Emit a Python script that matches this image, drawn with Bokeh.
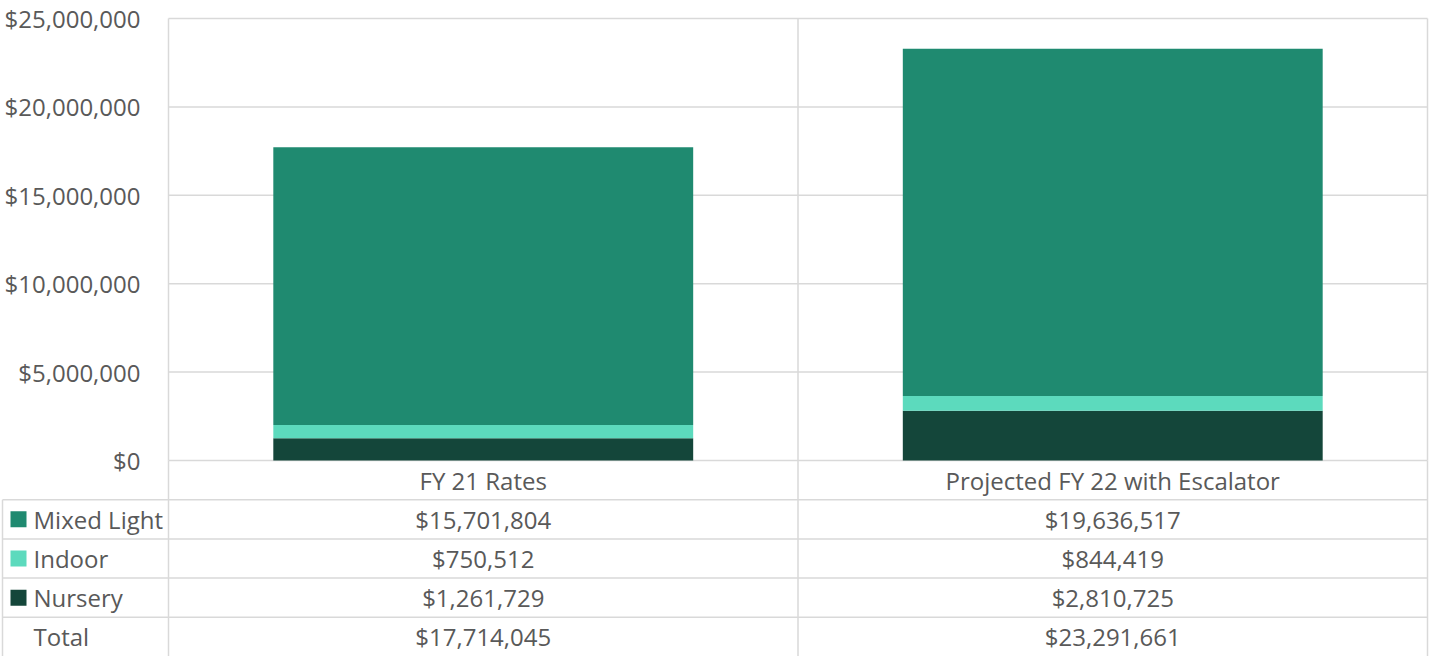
from bokeh.plotting import figure
from bokeh.models import Range1d, ColumnDataSource
from bokeh.core.properties import value
from bokeh.embed import file_html
from bokeh.resources import INLINE

# ---- data ----
categories = ["FY 21 Rates", "Projected FY 22 with Escalator"]
series_names = ["Mixed Light", "Indoor", "Nursery"]
mixed_light = [15701804, 19636517]
indoor = [750512, 844419]
nursery = [1261729, 2810725]
y_ticks = [0, 5000000, 10000000, 15000000, 20000000, 25000000]
y_max = 25000000

colors = {"Mixed Light": "#1f8a70", "Indoor": "#5cdabd", "Nursery": "#14463a"}
GRID = "#d9d9d9"
TXT = "#595959"
FONT = "Open Sans"
FS = "24px"

# ---- layout constants (canvas pixels) ----
W, H = 1429, 656
PLOT_L, PLOT_R = 168, 1427
TOP = 18
PLOT_H = 442
BASE = TOP + PLOT_H
N_ROWS = 5
ROW_H = (H - BASE) / N_ROWS
TABLE_L = 2
TICK_LABEL_R = 140
KEY_X = 18
LABEL_X = 33

ncat = len(categories)
upx = ncat / (PLOT_R - PLOT_L)
x0 = -PLOT_L * upx
x1 = ncat + (W - PLOT_R) * upx
u = y_max / PLOT_H

totals = [a + b + c for a, b, c in zip(mixed_light, indoor, nursery)]
xs = [i + 0.5 for i in range(ncat)]

p = figure(width=W, height=H, x_range=Range1d(x0, x1),
           y_range=Range1d(-(H - BASE) * u, y_max + TOP * u),
           x_axis_location=None, y_axis_location=None,
           output_backend="svg", toolbar_location=None, min_border=0,
           outline_line_color=None)
p.grid.visible = False
p.extra_y_ranges = {"table": Range1d(N_ROWS, -BASE / ROW_H)}

# ---- plot-area grid ----
gx0, gy0, gx1, gy1 = [], [], [], []
for v in y_ticks:
    gx0.append(0); gx1.append(ncat); gy0.append(v); gy1.append(v)
for i in range(ncat + 1):
    gx0.append(i); gx1.append(i); gy0.append(0); gy1.append(y_max)
p.segment(x0=gx0, y0=gy0, x1=gx1, y1=gy1, line_color=GRID, line_width=1.5)

# ---- stacked bars ----
src = ColumnDataSource(dict(x=xs, nursery=nursery, indoor=indoor, mixed=mixed_light))
p.vbar_stack(["nursery", "indoor", "mixed"], x="x", width=0.667,
             color=[colors["Nursery"], colors["Indoor"], colors["Mixed Light"]],
             line_color=None, source=src)

# ---- y tick labels ----
p.text(x=[x0 + TICK_LABEL_R * upx] * len(y_ticks), y=y_ticks,
       text=["${:,}".format(v) for v in y_ticks], text_align="right",
       text_baseline="middle", text_font=value(FONT), text_font_size=FS,
       text_color=TXT)

# ---- data table ----
tl = x0 + TABLE_L * upx
sx0, sy0, sx1, sy1 = [], [], [], []
for i in range(ncat + 1):
    sx0.append(i); sx1.append(i); sy0.append(0); sy1.append(N_ROWS)
sx0.append(tl); sx1.append(tl); sy0.append(1); sy1.append(N_ROWS)
for r in range(1, N_ROWS):
    sx0.append(tl); sx1.append(ncat); sy0.append(r); sy1.append(r)
p.segment(x0=sx0, y0=sy0, x1=sx1, y1=sy1, line_color=GRID, line_width=1.5,
          y_range_name="table")

p.text(x=xs, y=[0.5] * ncat, text=categories, text_align="center",
       text_baseline="middle", text_font=value(FONT), text_font_size=FS,
       text_color=TXT, y_range_name="table")

p.rect(x=[x0 + KEY_X * upx] * 3, y=[1.5, 2.5, 3.5], width=16, height=16,
       width_units="screen", height_units="screen",
       color=[colors[n] for n in series_names], line_color=None,
       y_range_name="table")
row_labels = series_names + ["Total"]
p.text(x=[x0 + LABEL_X * upx] * 4, y=[1.5, 2.5, 3.5, 4.5], text=row_labels,
       text_align="left", text_baseline="middle", text_font=value(FONT),
       text_font_size=FS, text_color=TXT, y_range_name="table")

rows = [mixed_light, indoor, nursery, totals]
vx, vy, vt = [], [], []
for r, vals in enumerate(rows):
    for c, v in enumerate(vals):
        vx.append(xs[c]); vy.append(r + 1.5); vt.append("${:,}".format(v))
p.text(x=vx, y=vy, text=vt, text_align="center", text_baseline="middle",
       text_font=value(FONT), text_font_size=FS, text_color=TXT,
       y_range_name="table")

open("out.html", "w").write(file_html(p, INLINE))
